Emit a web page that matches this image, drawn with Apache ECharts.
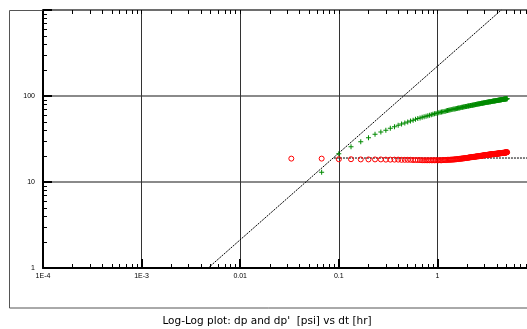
<!DOCTYPE html>
<html>
<head>
<meta charset="utf-8">
<script src="https://cdn.jsdelivr.net/npm/echarts@6/dist/echarts.min.js"></script>
<style>
html,body{margin:0;padding:0;background:#fff;}
#chart{width:527px;height:329px;}
</style>
</head>
<body>
<div id="chart"></div>
<script>
// elapsed time dt [hr]
var times = [
0.033,0.067,0.1,0.133,0.167,0.2,0.233,0.267,0.3,0.333,
0.367,0.4,0.433,0.467,0.5,0.533,0.567,0.6,0.633,0.667,
0.7,0.733,0.767,0.8,0.833,0.867,0.9,0.933,0.967,1.0,
1.033,1.067,1.1,1.133,1.167,1.2,1.233,1.267,1.3,1.333,
1.367,1.4,1.433,1.467,1.5,1.533,1.567,1.6,1.633,1.667,
1.7,1.733,1.767,1.8,1.833,1.867,1.9,1.933,1.967,2.0,
2.033,2.067,2.1,2.133,2.167,2.2,2.233,2.267,2.3,2.333,
2.367,2.4,2.433,2.467,2.5,2.533,2.567,2.6,2.633,2.667,
2.7,2.733,2.767,2.8,2.833,2.867,2.9,2.933,2.967,3.0,
3.033,3.067,3.1,3.133,3.167,3.2,3.233,3.267,3.3,3.333,
3.367,3.4,3.433,3.467,3.5,3.533,3.567,3.6,3.633,3.667,
3.7,3.733,3.767,3.8,3.833,3.867,3.9,3.933,3.967,4.0,
4.033,4.067,4.1,4.133,4.167,4.2,4.233,4.267,4.3,4.333,
4.367,4.4,4.433,4.467,4.5,4.533,4.567,4.6,4.633,4.667,
4.7,4.733,4.767,4.8,4.833,4.867,4.9,4.933,4.967,5.0,
5.033,5.067,5.1
];
// pressure change dp [psi] (green crosses)
var dp = [
null,13.0,21.3,25.7,29.4,32.7,35.9,38.1,39.9,42.1,
43.9,45.6,47.2,48.6,50.0,51.2,52.4,53.5,54.6,55.5,
56.5,57.4,58.3,59.1,59.9,60.6,61.4,62.1,62.8,63.4,
64.0,64.6,65.1,65.7,66.2,66.7,67.2,67.7,68.2,68.6,
69.1,69.5,70.0,70.4,70.8,71.2,71.6,72.0,72.3,72.7,
73.1,73.4,73.8,74.1,74.4,74.8,75.1,75.4,75.7,76.0,
76.3,76.6,76.9,77.2,77.5,77.8,78.0,78.3,78.6,78.8,
79.1,79.3,79.6,79.8,80.1,80.3,80.6,80.8,81.0,81.3,
81.5,81.7,81.9,82.1,82.4,82.6,82.8,83.0,83.2,83.4,
83.6,83.8,84.0,84.2,84.4,84.6,84.8,84.9,85.1,85.3,
85.5,85.7,85.8,86.0,86.2,86.4,86.5,86.7,86.9,87.0,
87.2,87.4,87.5,87.7,87.9,88.0,88.2,88.3,88.5,88.6,
88.8,88.9,89.1,89.2,89.4,89.5,89.7,89.8,90.0,90.1,
90.2,90.4,90.5,90.6,90.8,90.9,91.0,91.2,91.3,91.4,
91.6,91.7,91.8,92.0,92.1,92.2,92.3,92.4,92.6,92.7,
92.8,92.9,93.1
];
// pressure derivative dp' [psi] (red circles)
var dpPrime = [
18.7,18.7,18.4,18.4,18.3,18.3,18.3,18.3,18.2,18.2,
18.2,18.2,18.1,18.1,18.1,18.1,18.0,18.0,18.0,18.0,
17.9,17.9,17.9,17.9,17.9,17.9,17.9,17.9,17.9,17.9,
17.9,17.9,17.9,18.0,18.0,18.0,18.0,18.1,18.1,18.1,
18.2,18.2,18.2,18.3,18.3,18.4,18.4,18.5,18.5,18.6,
18.6,18.7,18.7,18.8,18.8,18.9,18.9,19.0,19.0,19.1,
19.1,19.2,19.3,19.3,19.4,19.4,19.5,19.5,19.6,19.6,
19.6,19.7,19.7,19.8,19.8,19.9,19.9,19.9,20.0,20.0,
20.1,20.1,20.2,20.2,20.2,20.3,20.3,20.4,20.4,20.5,
20.5,20.5,20.6,20.6,20.6,20.7,20.7,20.7,20.8,20.8,
20.8,20.9,20.9,20.9,21.0,21.0,21.0,21.0,21.1,21.1,
21.1,21.1,21.2,21.2,21.2,21.2,21.3,21.3,21.3,21.3,
21.4,21.4,21.4,21.4,21.5,21.5,21.5,21.5,21.6,21.6,
21.6,21.6,21.7,21.7,21.7,21.7,21.8,21.8,21.8,21.8,
21.9,21.9,21.9,21.9,22.0,22.0,22.0,22.0,22.1,22.1,
22.1,22.2,22.2
];
// unit-slope (wellbore storage) line end points [dt, dp]
var unitSlopeLine = [[0.00473, 1], [4.45, 1000]];
// radial flow stabilisation line [dt, dp']
var radialLine = [[0.0893, 19.0], [10, 19.0]];
// tick labels
var xTickLabels = ['1E-4', '1E-3', '0.01', '0.1', '1', '10'];
var yTickLabels = ['1', '10', '100', ''];
var xRange = [0.0001, 10];
var yRange = [1, 1000];
var titleText = "Log-Log plot: dp and dp'  [psi] vs dt [hr]";

function pairs(xs, ys) {
  var out = [];
  for (var i = 0; i < xs.length; i++) {
    if (ys[i] !== null && ys[i] !== undefined) out.push([xs[i], ys[i]]);
  }
  return out;
}
function tickIndex(v) { return Math.round(Math.log(v) / Math.LN10); }

var chart = echarts.init(document.getElementById('chart'), null, {renderer: 'canvas'});
var labelFont = {fontFamily: 'Liberation Sans, Arial, sans-serif', fontSize: 7, color: '#000'};

var option = {
  animation: false,
  backgroundColor: '#fff',
  grid: {left: 43, top: 10, right: -9, bottom: 61, containLabel: false, outerBoundsMode: 'none'},
  xAxis: [{
    type: 'log', logBase: 10, min: xRange[0], max: xRange[1], position: 'bottom',
    axisLine: {show: true, lineStyle: {color: '#000', width: 2}},
    axisTick: {show: true, inside: true, length: 9, lineStyle: {color: '#000', width: 2}},
    minorTick: {show: true, splitNumber: 9, length: 4, lineStyle: {color: '#000', width: 1}},
    splitLine: {show: true, lineStyle: {color: '#333', width: 1}},
    minorSplitLine: {show: false},
    axisLabel: Object.assign({
      margin: 5, showMaxLabel: true,
      formatter: function (v) {
        var i = tickIndex(v) - tickIndex(xRange[0]);
        return xTickLabels[i] !== undefined ? xTickLabels[i] : '';
      }
    }, labelFont)
  }, {
    type: 'log', logBase: 10, min: xRange[0], max: xRange[1], position: 'top',
    axisLine: {show: true, onZero: false, lineStyle: {color: '#666', width: 1.5}},
    axisTick: {show: true, inside: true, length: 4, lineStyle: {color: '#000', width: 1}},
    minorTick: {show: true, splitNumber: 9, length: 4, lineStyle: {color: '#000', width: 1}},
    splitLine: {show: false},
    axisLabel: {show: false}
  }],
  yAxis: [{
    type: 'log', logBase: 10, min: yRange[0], max: yRange[1],
    axisLine: {show: true, lineStyle: {color: '#000', width: 2}},
    axisTick: {show: true, inside: true, length: 9, lineStyle: {color: '#000', width: 2}},
    minorTick: {show: true, splitNumber: 9, length: 4, lineStyle: {color: '#000', width: 1}},
    splitLine: {show: true, lineStyle: {color: '#8a8a8a', width: 2}},
    axisLabel: Object.assign({
      margin: 8, padding: [5, 0, 0, 0],
      formatter: function (v) {
        var i = tickIndex(v) - tickIndex(yRange[0]);
        return yTickLabels[i] !== undefined ? yTickLabels[i] : '';
      }
    }, labelFont)
  }],
  graphic: [{
    type: 'rect', silent: true, z: -1,
    shape: {x: 9.5, y: 10.5, width: 600, height: 297.5},
    style: {fill: 'none', stroke: '#555', lineWidth: 1}
  }, {
    type: 'text', silent: true,
    x: 267, y: 321,
    style: {
      text: titleText, textAlign: 'center', textVerticalAlign: 'middle',
      font: '10.5px "DejaVu Sans", sans-serif', fill: '#000'
    }
  }],
  series: [{
    name: 'unit slope', type: 'line', xAxisIndex: 0, yAxisIndex: 0,
    data: unitSlopeLine, symbol: 'none', clip: true,
    lineStyle: {color: '#000', width: 1, type: [2, 1]}, z: 3
  }, {
    name: 'radial', type: 'line', xAxisIndex: 0, yAxisIndex: 0,
    data: radialLine, symbol: 'none', clip: true,
    lineStyle: {color: '#000', width: 1, type: [2, 1]}, z: 3
  }, {
    name: 'dp', type: 'scatter', xAxisIndex: 0, yAxisIndex: 0,
    data: pairs(times, dp),
    symbol: 'path://M2,0H3V2H5V3H3V5H2V3H0V2H2Z', symbolSize: 5,
    itemStyle: {color: '#008a00', opacity: 1}, z: 4
  }, {
    name: "dp'", type: 'scatter', xAxisIndex: 0, yAxisIndex: 0,
    data: pairs(times, dpPrime),
    symbol: 'circle', symbolSize: 5,
    itemStyle: {color: 'rgba(0,0,0,0)', borderColor: '#ff0000', borderWidth: 1, opacity: 1}, z: 5
  }]
};
chart.setOption(option);
</script>
</body>
</html>
